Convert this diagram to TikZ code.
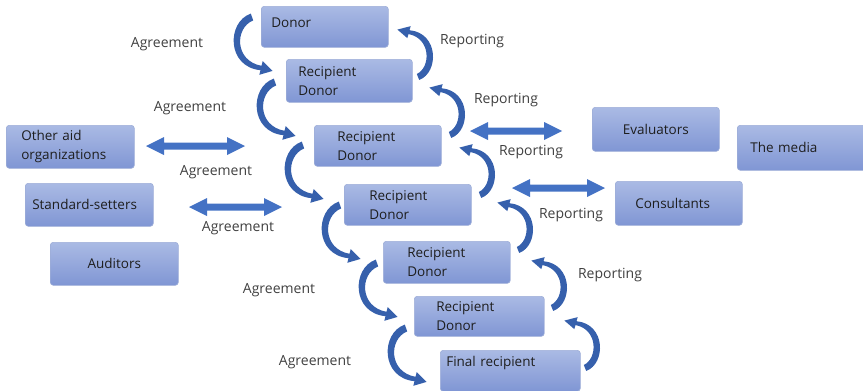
\documentclass[tikz,border=0pt]{standalone}
\usepackage{fontspec}
\setmainfont{Open Sans}
\definecolor{boxtop}{RGB}{170,186,228}
\definecolor{boxbot}{RGB}{128,150,212}
\definecolor{boxline}{RGB}{158,174,216}
\definecolor{arrowfill}{RGB}{54,96,172}
\definecolor{dblblue}{RGB}{68,114,196}
\definecolor{boxtext}{RGB}{30,30,30}
\definecolor{lbltext}{RGB}{64,64,64}
\newcommand\fs{\fontsize{13.5}{19}\selectfont}
\newcommand\fl{\fontsize{14}{19}\selectfont}
\newcommand\dbl[4]{%
  \coordinate (#1l) at (#2,#4);
  \coordinate (#1r) at (#3,#4);
  \fill[dblblue] (#1l) -- ++(18,-9) -- ++(0,5.5) -- ($(#1r)+(-18,-3.5)$) -- ++(0,-5.5) -- (#1r)
    -- ++(-18,9) -- ++(0,-5.5) -- ($(#1l)+(18,3.5)$) -- ++(0,5.5) -- cycle;}
\usetikzlibrary{calc}
\begin{document}
\begin{tikzpicture}[x=1pt,y=-1pt,
  box/.style={draw=boxline, line width=0.6pt, rounded corners=3pt, top color=boxtop,
    bottom color=boxbot, anchor=north west, align=left, inner ysep=0pt, font=\fs, text=boxtext},
  lbl/.style={font=\fl, text=lbltext, inner sep=0pt},
  pics/carr/.style n args={2}{code={%
    \fill[arrowfill, yscale=#2] (-1.2,-3.4) .. controls (#1-3.5,5) and (#1-3.5,50) .. (8.5,53.2)
      -- (7.3,57.8) -- (20.6,53.9) -- (10.7,44.2) -- (9.5,48.8)
      .. controls (#1+4.5,44) and (#1+4.5,11) .. (1.2,3.4) -- cycle;}}
]
\useasboundingbox (0,0) rectangle (863,391);

% boxes
\node[box, minimum width=127pt, minimum height=41pt, inner xsep=10pt, text width=107pt, text depth=8pt] (donor) at (261,6) {Donor};
\node[box, minimum width=126pt, minimum height=43pt, inner xsep=12pt, text width=102pt] (rd1) at (286,59) {Recipient\\Donor};
\node[box, minimum width=127pt, minimum height=41pt, inner xsep=23pt, text width=81pt] (rd2) at (314,125) {Recipient\\Donor};
\node[box, minimum width=127pt, minimum height=41pt, inner xsep=25pt, text width=77pt] (rd3) at (344,184) {Recipient\\Donor};
\node[box, minimum width=127pt, minimum height=42pt, inner xsep=24pt, text width=79pt] (rd4) at (383,241) {Recipient\\Donor};
\node[box, minimum width=130pt, minimum height=40pt, inner xsep=22pt, text width=86pt] (rd5) at (414,296) {Recipient\\Donor};
\node[box, minimum width=140pt, minimum height=41pt, inner xsep=6pt, text width=128pt, text depth=18pt] (final) at (440,350) {\mbox{Final recipient}};
\node[box, minimum width=128pt, minimum height=43pt, inner xsep=15pt, text width=98pt] (other) at (6,125) {Other aid\\organizations};
\node[box, minimum width=128pt, minimum height=43pt, inner xsep=7pt, text width=114pt] (std) at (25,183) {\mbox{Standard-setters}};
\node[box, minimum width=128pt, minimum height=43pt, inner xsep=4pt, text width=120pt, align=center] (aud) at (50,242) {Auditors};
\node[box, minimum width=127pt, minimum height=44pt, inner xsep=4pt, text width=119pt, align=center] (eval) at (592,107) {Evaluators};
\node[box, minimum width=130pt, minimum height=45pt, inner xsep=13pt, text width=104pt] (media) at (737,125) {The media};
\node[box, minimum width=127pt, minimum height=44pt, inner xsep=20pt, text width=87pt] (cons) at (615,181) {Consultants};

% double arrows
\dbl{da}{146}{245}{146}
\dbl{db}{189}{282}{207}
\dbl{dc}{470}{562}{131}
\dbl{dd}{512}{605}{188}

% curved agreement arrows
\foreach \p in {(252,17),(275,82),(303,145),(340,205),(377,263),(406,328)}
  \pic at \p {carr={-22}{1}};
% curved reporting arrows
\foreach \p in {(418,77),(450,135),(480,195),(518,250),(552,308),(585,368)}
  \pic[rotate=180] at \p {carr={-17.5}{0.88}};

% labels
\node[lbl] (ag1) at (167,44) {Agreement};
\node[lbl] (ag2) at (190,108) {Agreement};
\node[lbl] (ag3) at (216,172) {Agreement};
\node[lbl] (ag4) at (238,228) {Agreement};
\node[lbl] (ag5) at (279,290) {Agreement};
\node[lbl] (ag6) at (315,362) {Agreement};
\node[lbl] (rp1) at (472,41) {Reporting};
\node[lbl] (rp2) at (506,100) {Reporting};
\node[lbl] (rp3) at (531,152) {Reporting};
\node[lbl] (rp4) at (571,215) {Reporting};
\node[lbl] (rp5) at (610,275) {Reporting};
\end{tikzpicture}
\end{document}
